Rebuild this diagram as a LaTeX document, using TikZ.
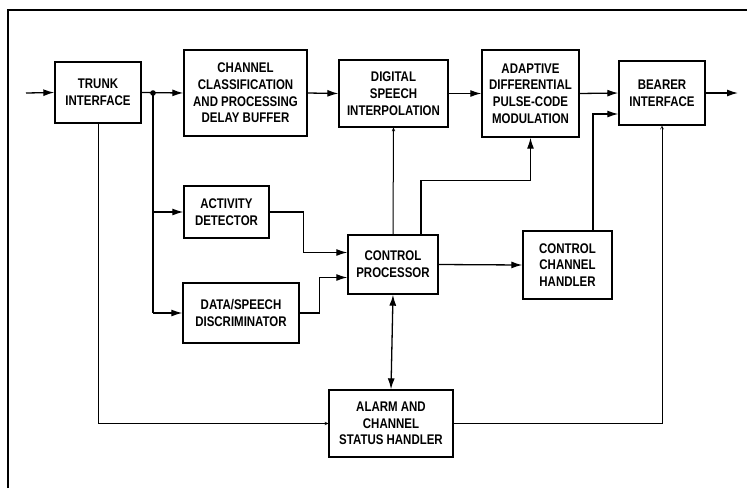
\documentclass[tikz,border=0pt]{standalone}
\usepackage{fontspec}
\setmainfont{Liberation Sans}[FakeStretch=0.82]
\usetikzlibrary{arrows.meta}
\begin{document}
\begin{tikzpicture}[x=1pt,y=-1pt,
  box/.style={draw,line width=1.4pt,align=center,inner sep=0pt,
    font=\fontsize{14}{16.7}\selectfont\bfseries},
  conn/.style={line width=1.3pt},
  arr/.style={conn,-{Latex[length=11pt,width=7pt]}},
  darr/.style={conn,{Latex[length=11pt,width=7pt]}-{Latex[length=11pt,width=7pt]}},
  faint/.style={line width=1pt,-{Straight Barb[length=3pt,width=3pt,line width=0.5pt]}}]
\useasboundingbox (0,0) rectangle (747,488);
\draw[line width=1.6pt] (8,488) -- (8,10) -- (747,10);

\node[box,minimum width=86pt,minimum height=61pt] (trunk) at (98,92.5) {TRUNK\\INTERFACE};
\node[box,minimum width=123pt,minimum height=86pt] (ccpdb) at (245.5,93) {CHANNEL\\CLASSIFICATION\\AND PROCESSING\\DELAY BUFFER};
\node[box,minimum width=109pt,minimum height=67pt] (dsi) at (393.5,93.5) {DIGITAL\\SPEECH\\INTERPOLATION};
\node[box,minimum width=97pt,minimum height=87pt] (adpcm) at (530.5,93.5) {ADAPTIVE\\DIFFERENTIAL\\PULSE-CODE\\MODULATION};
\node[box,minimum width=86pt,minimum height=64pt] (bearer) at (662,93) {BEARER\\INTERFACE};
\node[box,minimum width=85pt,minimum height=52pt] (act) at (226.5,212) {ACTIVITY\\DETECTOR};
\node[box,minimum width=90pt,minimum height=59pt] (cp) at (393,264.5) {CONTROL\\PROCESSOR};
\node[box,minimum width=116pt,minimum height=60pt] (dsd) at (241,313) {DATA/SPEECH\\DISCRIMINATOR};
\node[box,minimum width=89pt,minimum height=68pt] (cch) at (567.5,265) {CONTROL\\CHANNEL\\HANDLER};
\node[box,minimum width=124pt,minimum height=67pt] (alarm) at (391,423.5) {ALARM AND\\CHANNEL\\STATUS HANDLER};

\coordinate (in) at (26,93);
\coordinate (out) at (738,93);
\coordinate (j) at (153,93);

\draw[arr] (in) -- (trunk.west);
\draw[arr] (trunk.east) -- (ccpdb.west);
\fill (j) circle (2.8pt);
\draw[conn] (j) -- (j |- dsd.west);
\draw[arr] (j |- act.west) -- (act.west);
\draw[arr] (j |- dsd.west) -- (dsd.west);
\draw[arr] (ccpdb.east) -- (dsi.west);
\draw[arr] (dsi.east) -- (adpcm.west);
\draw[arr] (adpcm.east) -- (bearer.west);
\draw[arr] (bearer.east) -- (out);

\draw[arr] (act.east) -- ++(34,0) |- ([yshift=12pt]cp.west);
\draw[arr] (dsd.east) -- ++(20,0) |- ([yshift=-13pt]cp.west);
\draw[faint] (cp.north) -- (dsi.south);
\draw[arr] ([xshift=28pt]cp.north) -- ++(0,-54) -| (adpcm.south);
\draw[arr] (cp.east) -- (cch.west);
\draw[arr] ([xshift=25.5pt]cch.north) |- ([yshift=-21pt]bearer.west);
\draw[darr] (cp.south) -- (alarm.north);
\draw[faint] (trunk.south) |- (alarm.west);
\draw[faint] (alarm.east) -| (bearer.south);
\end{tikzpicture}
\end{document}
